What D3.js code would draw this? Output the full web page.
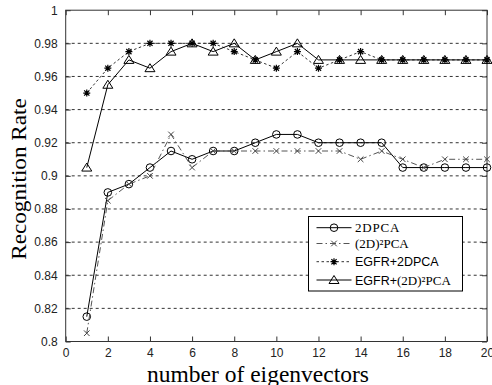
<!DOCTYPE html>
<html><head><meta charset="utf-8">
<script src="https://cdn.jsdelivr.net/npm/d3@7"></script>
<style>
body{margin:0;background:#fff;}
svg{display:block;}
</style></head>
<body><svg id="c" width="492" height="385"></svg>
<script>
const xs = [1,2,3,4,5,6,7,8,9,10,11,12,13,14,15,16,17,18,19,20];
const s2DPCA   = [0.815,0.89,0.895,0.905,0.915,0.91,0.915,0.915,0.92,0.925,0.925,0.92,0.92,0.92,0.92,0.905,0.905,0.905,0.905,0.905];
const s2D2PCA  = [0.805,0.885,0.895,0.9,0.925,0.905,0.915,0.915,0.915,0.915,0.915,0.915,0.915,0.91,0.915,0.91,0.905,0.91,0.91,0.91];
const sEGFR2D  = [0.95,0.965,0.975,0.98,0.98,0.98,0.98,0.975,0.97,0.965,0.975,0.965,0.97,0.975,0.97,0.97,0.97,0.97,0.97,0.97];
const sEGFR2D2 = [0.905,0.955,0.97,0.965,0.975,0.98,0.975,0.98,0.97,0.975,0.98,0.97,0.97,0.97,0.97,0.97,0.97,0.97,0.97,0.97];
const xTicks = [0,2,4,6,8,10,12,14,16,18,20];
const yTicks = [0.8,0.82,0.84,0.86,0.88,0.9,0.92,0.94,0.96,0.98,1];
const yTickLabels = ["0.8","0.82","0.84","0.86","0.88","0.9","0.92","0.94","0.96","0.98","1"];
const legendNames = ["2DPCA","(2D)²PCA","EGFR+2DPCA","EGFR+(2D)²PCA"];

const svg = d3.select("#c");
const L=65.7, R=487, T=10.2, B=341.5;
const x = d3.scaleLinear().domain([0,20]).range([L,R]);
const y = d3.scaleLinear().domain([0.8,1]).range([B,T]);

// gridlines
svg.append("g").selectAll("line").data(yTicks.filter(v=>v>0.8+1e-9 && v<1-1e-9)).join("line")
  .attr("x1",L).attr("x2",R).attr("y1",d=>y(d)).attr("y2",d=>y(d))
  .attr("stroke","#333").attr("stroke-width",1).attr("stroke-dasharray","3,3");

// axes
const axB = d3.axisBottom(x).tickValues(xTicks).tickSize(-5).tickPadding(7).tickFormat(d3.format("d"));
const axT = d3.axisTop(x).tickValues(xTicks).tickSize(-5).tickFormat("");
const axL = d3.axisLeft(y).tickValues(yTicks).tickSize(-5).tickPadding(8).tickFormat((d,i)=>yTickLabels[i]);
const axR = d3.axisRight(y).tickValues(yTicks).tickSize(-5).tickFormat("");
function style(g){
  g.select(".domain").attr("stroke","#333");
  g.selectAll(".tick line").attr("stroke","#333");
  g.selectAll("text").attr("fill","#222").style("font-family","'Liberation Sans',Arial,sans-serif").style("font-size","12px");
}
svg.append("g").attr("transform",`translate(0,${B})`).call(axB).call(style).call(g=>g.select(".domain").remove());
svg.append("g").attr("transform",`translate(0,${T})`).call(axT).call(style).call(g=>g.select(".domain").remove());
svg.append("g").attr("transform",`translate(${L},0)`).call(axL).call(style).call(g=>g.select(".domain").remove());
svg.append("g").attr("transform",`translate(${R},0)`).call(axR).call(style).call(g=>g.select(".domain").remove());
svg.append("rect").attr("x",L).attr("y",T).attr("width",R-L).attr("height",B-T)
  .attr("fill","none").attr("stroke","#333").attr("stroke-width",1);

const series = [
  {vals:s2DPCA, color:"#000", dash:null, marker:"circle"},
  {vals:s2D2PCA, color:"#555", dash:"6,3,1.5,3", marker:"x"},
  {vals:sEGFR2D, color:"#333", dash:"2.5,2.5", marker:"star"},
  {vals:sEGFR2D2, color:"#000", dash:null, marker:"tri"}
];
const line = d3.line().x(d=>x(d[0])).y(d=>y(d[1]));

function drawMarker(g, type, cx, cy, color){
  if(type==="circle"){
    g.append("circle").attr("cx",cx).attr("cy",cy).attr("r",3.8).attr("fill","none").attr("stroke",color).attr("stroke-width",1);
  } else if(type==="x"){
    const s=2.8;
    g.append("path").attr("d",`M${cx-s},${cy-s}L${cx+s},${cy+s}M${cx-s},${cy+s}L${cx+s},${cy-s}`).attr("stroke",color).attr("stroke-width",1).attr("fill","none");
  } else if(type==="star"){
    const s=3.5, t=2.6;
    g.append("path").attr("d",`M${cx},${cy-s}L${cx},${cy+s}M${cx-s},${cy}L${cx+s},${cy}M${cx-t},${cy-t}L${cx+t},${cy+t}M${cx-t},${cy+t}L${cx+t},${cy-t}`).attr("stroke",color).attr("stroke-width",1.2).attr("fill","none");
  } else if(type==="tri"){
    const w=5, h=4;
    g.append("path").attr("d",`M${cx},${cy-h-0.5}L${cx+w},${cy+h-0.5}L${cx-w},${cy+h-0.5}Z`).attr("stroke",color).attr("stroke-width",1).attr("fill","none");
  }
}

series.forEach(s=>{
  const pts = xs.map((v,i)=>[v,s.vals[i]]);
  const g = svg.append("g");
  g.append("path").attr("d",line(pts)).attr("fill","none").attr("stroke",s.color).attr("stroke-width",1)
    .attr("stroke-dasharray",s.dash);
  pts.forEach(p=>drawMarker(g,s.marker,x(p[0]),y(p[1]),s.marker==="x"?"#444":"#000"));
});

// legend
const lg = svg.append("g");
lg.append("rect").attr("x",308.5).attr("y",216.5).attr("width",154).attr("height",74.5)
  .attr("fill","#fff").attr("stroke","#000").attr("stroke-width",1);
const rowsY = [227.7,243.5,261.7,280];
const serif = "'Liberation Serif','Times New Roman',serif";
const sans = "'Liberation Sans',Arial,sans-serif";
series.forEach((s,i)=>{
  const yy = rowsY[i];
  lg.append("line").attr("x1",316.5).attr("x2",351.5).attr("y1",yy).attr("y2",yy)
    .attr("stroke",s.color).attr("stroke-width",1).attr("stroke-dasharray",s.dash);
  drawMarker(lg,s.marker,334,yy,s.marker==="x"?"#444":"#000");
  const t = lg.append("text").attr("x",355).attr("y",yy+4.5).attr("fill","#000").style("font-size","13px");
  const name = legendNames[i];
  if(i===0){ t.style("font-family",serif).style("letter-spacing","0.8px").text(name); }
  else if(i===1){ t.style("font-family",serif).text(name); }
  else if(i===2){ t.style("font-family",sans).style("font-size","12.5px").text(name); }
  else {
    t.style("font-family",sans).style("font-size","12.5px");
    t.append("tspan").text("EGFR+");
    t.append("tspan").style("font-family",serif).style("font-size","13px").text("(2D)²PCA");
  }
});

// axis labels
svg.append("text").attr("x",258).attr("y",381.5).attr("text-anchor","middle")
  .style("font-family",serif).style("font-size","23.5px").attr("fill","#000").text("number of eigenvectors");
svg.append("text").attr("transform","translate(26,179) rotate(-90) scale(1.16,1)").attr("text-anchor","middle")
  .style("font-family",serif).style("font-size","20px").attr("fill","#000").text("Recognition Rate");
</script></body></html>
